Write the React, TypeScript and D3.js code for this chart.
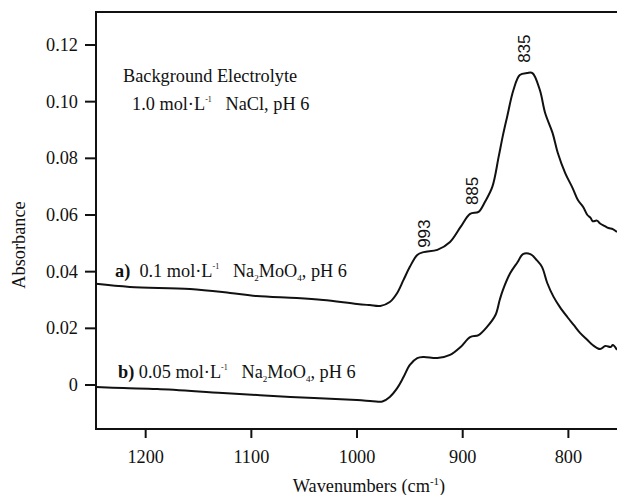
import React from "react";
import * as d3 from "d3";

const waveA = [1247,1215,1158,1120,1095,1057,1032,1000,988,978,969,962,956,950,943,937,924,912,902,893,885,879,872,866,862,858,852,846,839,834,827,822,815,810,803,796,791,786,782,779,777,773,770,766,762,758,754];
const absA = [0.0357,0.0346,0.0339,0.0325,0.0314,0.0307,0.0300,0.0286,0.0282,0.0279,0.0293,0.0325,0.0371,0.0417,0.0459,0.0469,0.0477,0.0505,0.0558,0.0604,0.0611,0.0646,0.0699,0.0805,0.0880,0.0946,0.1041,0.1094,0.1101,0.1101,0.1041,0.0960,0.0890,0.0819,0.0748,0.0695,0.0653,0.0628,0.0600,0.0590,0.0578,0.0580,0.0570,0.0562,0.0554,0.0550,0.0540];

const waveB = [1247,1221,1189,1127,1063,1000,985,976,969,962,956,950,943,937,924,912,902,893,885,877,869,865,862,855,848,843,836,830,825,820,814,808,801,795,789,782,777,770,765,760,758,754];
const absB = [-0.0007,-0.0011,-0.0014,-0.0028,-0.0042,-0.0053,-0.0057,-0.0058,-0.0042,-0.0011,0.0028,0.0071,0.0095,0.0099,0.0095,0.0106,0.0134,0.0169,0.0176,0.0205,0.0247,0.0300,0.0335,0.0395,0.0434,0.0462,0.0462,0.0441,0.0417,0.0360,0.0311,0.0275,0.0240,0.0212,0.0184,0.0159,0.0141,0.0127,0.0138,0.0134,0.0141,0.0124];

const xTicks = [1200, 1100, 1000, 900, 800];
const yTicks = [0, 0.02, 0.04, 0.06, 0.08, 0.1, 0.12];
const yTickLabels = ["0", "0.02", "0.04", "0.06", "0.08", "0.10", "0.12"];

const peakWaves = [931, 886, 836];
const peakAbs = [0.0484, 0.0635, 0.1137];
const peakLabels = ["993", "885", "835"];

const W = 617, H = 495;
const left = 96, right = 617, top = 12, bottom = 429;

export default function App() {
  const x = d3.scaleLinear().domain([1247, 754]).range([left, right]);
  const y = d3.scaleLinear().domain([0, 0.12]).range([385, 45]);
  const line = d3.line<[number, number]>().x(d => x(d[0])).y(d => y(d[1])).curve(d3.curveCatmullRom.alpha(0.5));
  const dA = line(waveA.map((w, i) => [w, absA[i]] as [number, number])) || "";
  const dB = line(waveB.map((w, i) => [w, absB[i]] as [number, number])) || "";
  const serif = "'Liberation Serif', 'Times New Roman', serif";
  const sans = "'Liberation Sans', Arial, sans-serif";
  const fs = 18.3;
  return (
    <svg width={W} height={H} style={{ position: "absolute", left: 0, top: 0, background: "#fff" }} fontFamily={serif}>
      <rect x={0} y={0} width={W} height={H} fill="#fff" />
      <path d={`M${right},${top}H${left}V${bottom}H${right}`} fill="none" stroke="#111" strokeWidth={2} />
      {yTicks.map((t, i) => (
        <g key={t}>
          <line x1={left - 11} x2={left} y1={y(t)} y2={y(t)} stroke="#111" strokeWidth={2} />
          <text x={78} y={y(t) + 6} textAnchor="end" fontSize={fs} fill="#111">{yTickLabels[i]}</text>
        </g>
      ))}
      {xTicks.map(t => (
        <g key={t}>
          <line x1={x(t)} x2={x(t)} y1={bottom} y2={bottom + 9} stroke="#111" strokeWidth={2} />
          <text x={x(t)} y={463} textAnchor="middle" fontSize={fs} fill="#111">{t}</text>
        </g>
      ))}
      <text transform="translate(25,245) rotate(-90)" textAnchor="middle" fontSize={fs} fill="#111">Absorbance</text>
      <text x={369} y={492} textAnchor="middle" fontSize={fs} fill="#111">
        Wavenumbers (cm<tspan fontSize={11} dy={-7}>-1</tspan><tspan dy={7}>)</tspan>
      </text>
      <path d={dA} fill="none" stroke="#111" strokeWidth={2} strokeLinejoin="round" />
      <path d={dB} fill="none" stroke="#111" strokeWidth={2} strokeLinejoin="round" />
      {peakLabels.map((l, i) => (
        <text key={l} transform={`translate(${x(peakWaves[i])},${y(peakAbs[i])}) rotate(-90)`} fontSize={17} fontFamily={sans} fill="#111">{l}</text>
      ))}
      <text x={123} y={82} fontSize={fs} fill="#111">Background Electrolyte</text>
      <text x={132} y={110} fontSize={fs} fill="#111">
        1.0 mol·L<tspan fontSize={8} dy={-8}>-1</tspan><tspan dy={8}>{"\u00a0\u00a0 NaCl, pH 6"}</tspan>
      </text>
      <text x={115} y={277} fontSize={fs} fill="#111">
        <tspan fontWeight="bold">a)</tspan>{"\u00a0 0.1 mol·L"}<tspan fontSize={8} dy={-8}>-1</tspan><tspan dy={8}>{"\u00a0\u00a0 Na"}</tspan><tspan fontSize={9} dy={4}>2</tspan><tspan dy={-4}>MoO</tspan><tspan fontSize={9} dy={4}>4</tspan><tspan dy={-4}>, pH 6</tspan>
      </text>
      <text x={118} y={378} fontSize={fs} fill="#111">
        <tspan fontWeight="bold">b)</tspan>{" 0.05 mol·L"}<tspan fontSize={8} dy={-8}>-1</tspan><tspan dy={8}>{"\u00a0\u00a0 Na"}</tspan><tspan fontSize={9} dy={4}>2</tspan><tspan dy={-4}>MoO</tspan><tspan fontSize={9} dy={4}>4</tspan><tspan dy={-4}>, pH 6</tspan>
      </text>
    </svg>
  );
}
